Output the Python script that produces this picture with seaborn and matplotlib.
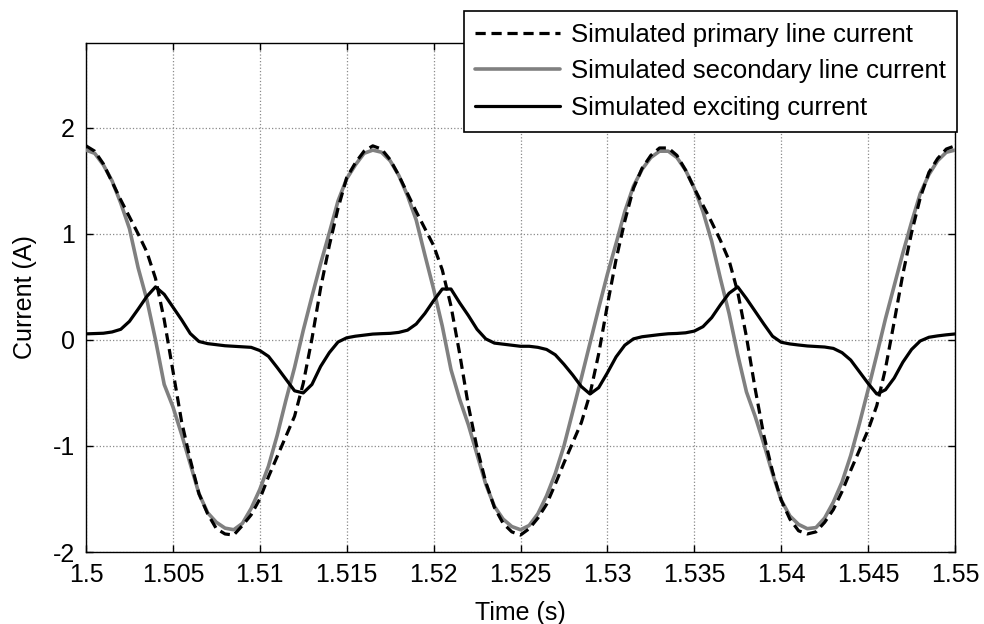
import numpy as np
import pandas as pd
import matplotlib
matplotlib.use("Agg")
import matplotlib.pyplot as plt
import seaborn as sns

# ---------------- data ----------------
time = np.linspace(1.5, 1.55, 101)

primary = [
    1.83, 1.78, 1.66, 1.49, 1.32, 1.16, 1.00, 0.83, 0.58, 0.19,
    -0.29, -0.77, -1.13, -1.45, -1.64, -1.78, -1.83, -1.84, -1.75, -1.65,
    -1.50, -1.29, -1.10, -0.91, -0.72, -0.41, 0.01, 0.49, 0.89, 1.24,
    1.53, 1.67, 1.78, 1.83,
    1.80, 1.70, 1.55, 1.38, 1.21, 1.05, 0.89, 0.66, 0.32, -0.13,
    -0.62, -1.02, -1.34, -1.58, -1.73, -1.81, -1.84, -1.78, -1.68, -1.55,
    -1.36, -1.16, -0.97, -0.78, -0.51, -0.13, 0.33, 0.76, 1.12, 1.43,
    1.62, 1.74, 1.81,
    1.81, 1.74, 1.60, 1.43, 1.27, 1.11, 0.94, 0.75, 0.45, 0.03,
    -0.46, -0.90, -1.24, -1.51, -1.69, -1.80, -1.83, -1.81, -1.72, -1.60,
    -1.43, -1.23, -1.04, -0.85, -0.62, -0.27, 0.17, 0.62, 1.01, 1.34,
    1.58, 1.71, 1.80, 1.83,
]

secondary = [
    1.79, 1.76, 1.65, 1.50, 1.29, 1.05, 0.68, 0.38, 0.00, -0.42,
    -0.63, -0.89, -1.17, -1.45, -1.63, -1.72, -1.775, -1.79, -1.73, -1.59,
    -1.41, -1.19, -0.90, -0.57, -0.26, 0.09, 0.41, 0.72, 1.01, 1.31,
    1.52, 1.65, 1.76, 1.79,
    1.77, 1.69, 1.55, 1.36, 1.13, 0.80, 0.48, 0.13, -0.28, -0.56,
    -0.80, -1.08, -1.36, -1.57, -1.69, -1.76, -1.79, -1.75, -1.64, -1.47,
    -1.26, -1.00, -0.68, -0.36, -0.03, 0.30, 0.62, 0.91, 1.21, 1.45,
    1.61, 1.72, 1.78,
    1.78, 1.72, 1.60, 1.43, 1.21, 0.93, 0.58, 0.25, -0.14, -0.49,
    -0.72, -0.98, -1.26, -1.51, -1.66, -1.74, -1.78, -1.77, -1.68, -1.53,
    -1.34, -1.09, -0.79, -0.47, -0.14, 0.20, 0.51, 0.82, 1.11, 1.38,
    1.56, 1.69, 1.77, 1.79,
]

exciting = [
    0.057, 0.060, 0.063, 0.075, 0.10, 0.175, 0.29, 0.41, 0.50, 0.43,
    0.31, 0.19, 0.06, -0.015, -0.035, -0.045, -0.055, -0.06, -0.065, -0.07,
    -0.10, -0.155, -0.26, -0.37, -0.48, -0.50, -0.42, -0.25, -0.12, -0.02,
    0.02, 0.035, 0.045, 0.055,
    0.059, 0.062, 0.071, 0.092, 0.15, 0.25, 0.37, 0.48, 0.48, 0.35,
    0.23, 0.10, 0.01, -0.03, -0.04, -0.05, -0.06, -0.06, -0.07, -0.09,
    -0.14, -0.23, -0.33, -0.44, -0.51, -0.45, -0.31, -0.16, -0.05, 0.01,
    0.03, 0.04, 0.05,
    0.058, 0.061, 0.067, 0.083, 0.125, 0.21, 0.33, 0.44, 0.50, 0.39,
    0.27, 0.15, 0.035, -0.022, -0.038, -0.048, -0.057, -0.062, -0.067, -0.08,
    -0.12, -0.19, -0.30, -0.41, -0.51, -0.47, -0.36, -0.21, -0.09, -0.01,
    0.025, 0.038, 0.048, 0.056,
]

labels = ["Simulated primary line current",
          "Simulated secondary line current",
          "Simulated exciting current"]
x_ticks = [1.5, 1.505, 1.51, 1.515, 1.52, 1.525, 1.53, 1.535, 1.54, 1.545, 1.55]
x_ticklabels = ["1.5", "1.505", "1.51", "1.515", "1.52", "1.525", "1.53",
                "1.535", "1.54", "1.545", "1.55"]
y_ticks = [-2, -1, 0, 1, 2]
y_ticklabels = ["-2", "-1", "0", "1", "2"]

# ---------------- plot ----------------
sns.set_style("ticks")
plt.rcParams["font.family"] = ["Liberation Sans", "DejaVu Sans"]
plt.rcParams["text.color"] = "black"
plt.rcParams["axes.labelcolor"] = "black"

n = len(primary)
df = pd.DataFrame({"t": time[:n], "primary": primary,
                   "secondary": secondary, "exciting": exciting})

fig = plt.figure(figsize=(9.84, 6.24), dpi=100)
ax = fig.add_axes([86 / 984, 1 - 552 / 624, (955 - 86) / 984, (552 - 43) / 624])

FS = 18
sns.lineplot(data=df, x="t", y="primary", ax=ax, color="black", lw=2.3,
             linestyle="--", label=labels[0], zorder=4)
sns.lineplot(data=df, x="t", y="secondary", ax=ax, color="#808080", lw=2.6,
             label=labels[1], zorder=3)
sns.lineplot(data=df, x="t", y="exciting", ax=ax, color="black", lw=2.3,
             label=labels[2], zorder=5)
ax.lines[0].set_dashes((3.2, 1.8))

ax.set_xlim(1.5, 1.55)
ax.set_ylim(-2, 2.8)
ax.set_xticks(x_ticks)
ax.set_xticklabels(x_ticklabels)
ax.set_yticks(y_ticks)
ax.set_yticklabels(y_ticklabels)
ax.grid(True, linestyle=":", color="#8a8a8a", lw=0.9)
ax.tick_params(direction="in", top=True, right=True, length=5, width=1,
               labelsize=FS, pad=8, colors="black")
for s in ax.spines.values():
    s.set_color("black")
    s.set_linewidth(1.0)

ax.set_xlabel("Time (s)", fontsize=FS, labelpad=10, color="black")
ax.set_ylabel("Current (A)", fontsize=FS, labelpad=11, color="black")

leg = ax.legend(loc="upper right", bbox_to_anchor=(957 / 984, 1 - 11 / 624),
                bbox_transform=fig.transFigure, fontsize=18.5, frameon=True,
                fancybox=False, edgecolor="black", framealpha=1,
                handlelength=3.3, handletextpad=0.4, labelspacing=0.5,
                borderpad=0.45, borderaxespad=0)
leg.get_frame().set_linewidth(1.2)
for t in leg.get_texts():
    t.set_color("black")
leg.set_zorder(10)

fig.savefig("out.png", dpi=100)
